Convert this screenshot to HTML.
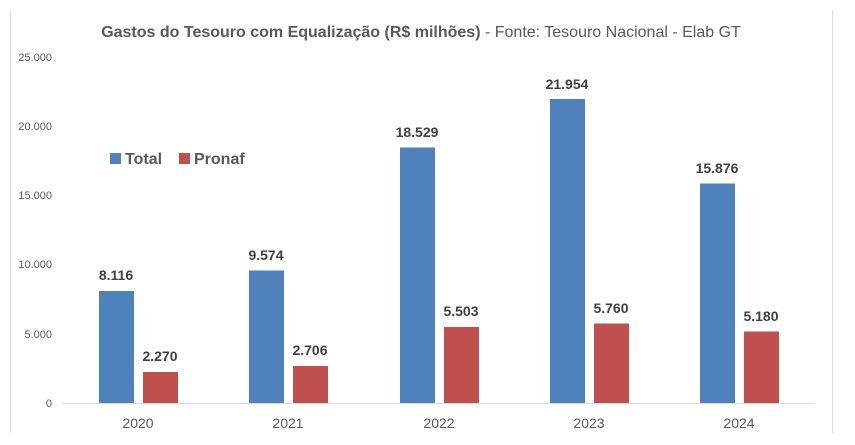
<!DOCTYPE html>
<html><head><meta charset="utf-8"><style>
body{margin:0;background:#fff;}
svg{display:block;font-family:"Liberation Sans",sans-serif;}
</style></head><body>
<svg width="855" height="445" viewBox="0 0 855 445">
<rect width="855" height="445" fill="#fff"/>
<line x1="10.5" y1="10" x2="10.5" y2="433" stroke="#d9d9d9"/>
<line x1="832.5" y1="10" x2="832.5" y2="433" stroke="#d9d9d9"/>
<text x="421" y="37" text-anchor="middle" font-size="16" fill="#595959"><tspan font-weight="bold">Gastos do Tesouro com Equalização (R$ milhões)</tspan> - Fonte: Tesouro Nacional - Elab GT</text>
<g font-size="11" fill="#595959" text-anchor="end">
<text x="52" y="61">25.000</text><text x="52" y="130">20.000</text><text x="52" y="199">15.000</text><text x="52" y="268">10.000</text><text x="52" y="338">5.000</text><text x="52" y="407">0</text>
</g>
<line x1="62" y1="403.5" x2="815" y2="403.5" stroke="#d9d9d9"/>
<rect x="110" y="153" width="11" height="11" fill="#4f81bd"/>
<text x="125" y="164" font-size="16" font-weight="bold" fill="#595959">Total</text>
<rect x="179" y="153" width="11" height="11" fill="#c0504d"/>
<text x="194" y="164" font-size="16" font-weight="bold" fill="#595959">Pronaf</text>
<g font-size="14" font-weight="bold" fill="#404040" text-anchor="middle">
<rect x="99" y="291" width="35" height="112" fill="#4f81bd"/><text x="116" y="280">8.116</text>
<rect x="143" y="372" width="35" height="31" fill="#c0504d"/><text x="160" y="361">2.270</text>
<rect x="249" y="270.5" width="35" height="132.5" fill="#4f81bd"/><text x="266" y="260">9.574</text>
<rect x="293" y="366" width="35" height="37" fill="#c0504d"/><text x="310" y="355">2.706</text>
<rect x="400" y="147.5" width="35" height="255.5" fill="#4f81bd"/><text x="417" y="137">18.529</text>
<rect x="444" y="327" width="35" height="76" fill="#c0504d"/><text x="461" y="316">5.503</text>
<rect x="550" y="99" width="35" height="304" fill="#4f81bd"/><text x="567" y="89">21.954</text>
<rect x="594" y="323.5" width="35" height="79.5" fill="#c0504d"/><text x="611" y="313">5.760</text>
<rect x="700" y="183.5" width="35" height="219.5" fill="#4f81bd"/><text x="717" y="173">15.876</text>
<rect x="744" y="331.5" width="35" height="71.5" fill="#c0504d"/><text x="761" y="321">5.180</text>
</g>
<g font-size="14" fill="#595959" text-anchor="middle">
<text x="138" y="428">2020</text><text x="288" y="428">2021</text><text x="439" y="428">2022</text><text x="589" y="428">2023</text><text x="739" y="428">2024</text>
</g>
</svg>
</body></html>
